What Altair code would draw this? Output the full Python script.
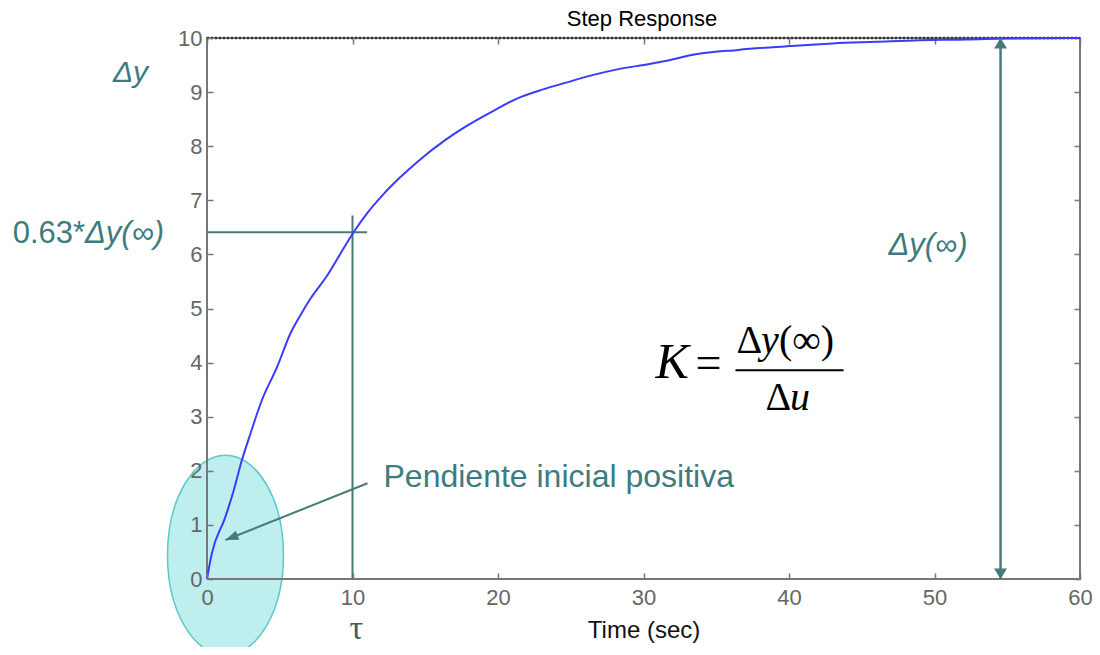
import math
import altair as alt
import pandas as pd

# ---- data ----
time_s = [0, 0.32, 1.24, 1.84, 2.38, 2.99, 3.75, 4.82, 5.7, 6.43, 7.08, 8.26, 9.14, 10.05,
          11.0, 12.15, 13.26, 14.45, 16.46, 17.88, 19.66, 21.3, 23.1, 24.75, 26.3, 28.2,
          30.4, 31.6, 33.6, 36.5, 40.0, 43.0, 46.0, 49.0, 52.2, 55.0, 60.0]
response = [0, 0.46, 1.13, 1.64, 2.18, 2.69, 3.29, 3.92, 4.52, 4.88, 5.17, 5.61, 6.0, 6.4,
            6.76, 7.12, 7.42, 7.71, 8.13, 8.38, 8.65, 8.88, 9.05, 9.18, 9.3, 9.42,
            9.52, 9.58, 9.70, 9.78, 9.85, 9.9, 9.93, 9.96, 9.97, 9.99, 10.0]

x_ticks = [0, 10, 20, 30, 40, 50, 60]
y_ticks = [0, 1, 2, 3, 4, 5, 6, 7, 8, 9, 10]

final_value = 10.0
tau = 10.0
y_63 = 6.41
tau_mark_top = 6.72
y63_line_end = 11.0
gain_arrow_t = 54.54

# annotation anchors (data units)
ellipse_center = (1.27, 0.44)
slope_arrow_start = (11.03, 1.77)
slope_arrow_tip = (1.27, 0.72)
frac_bar = (36.32, 43.75, 3.86)

# ---- layout / style ----
W, H = 873, 541
XD, YD = [0, 60], [0, 10]
TEAL_LINE = "#477b79"
TEAL_TEXT = "#3c7c7e"
GRAY = "#777777"
SANS = "Liberation Sans"
SERIF = "Liberation Serif"


def xs(field, axis=None):
    return alt.X(f"{field}:Q", scale=alt.Scale(domain=XD, nice=False, zero=False), axis=axis)


def ys(field, axis=None):
    return alt.Y(f"{field}:Q", scale=alt.Scale(domain=YD, nice=False, zero=False), axis=axis)


def one(**kw):
    return pd.DataFrame({k: [v] for k, v in kw.items()})


bottom_axis = alt.Axis(values=x_ticks, orient="bottom", domain=False, grid=False,
                       tickSize=6, offset=-6, tickColor=GRAY, tickWidth=1.5,
                       labelFont=SANS, labelFontSize=22, labelColor="#666666",
                       labelPadding=8, labelFlush=False, labelOverlap=False,
                       title="Time (sec)", titleFont=SANS, titleFontSize=24,
                       titleFontWeight="normal", titleColor="#111111", titlePadding=10,
                       zindex=2)
left_axis = alt.Axis(values=y_ticks, orient="left", domain=False, grid=False,
                     tickSize=6, offset=-6, tickColor=GRAY, tickWidth=1.5,
                     labelFont=SANS, labelFontSize=22, labelColor="#666666",
                     labelPadding=5, labelOverlap=False, title=None, zindex=2)
top_axis = alt.Axis(values=x_ticks, orient="top", domain=False, grid=False, labels=False,
                    tickSize=6, offset=-6, tickColor=GRAY, tickWidth=1.5, title=None)
right_axis = alt.Axis(values=y_ticks, orient="right", domain=False, grid=False, labels=False,
                      tickSize=6, offset=-6, tickColor=GRAY, tickWidth=1.5, title=None)

# ellipse highlighting the initial slope
ellipse_path = ("M -0.58,0 C -0.58,-0.5523 -0.3203,-1 0,-1 C 0.3203,-1 0.58,-0.5523 0.58,0 "
                "C 0.58,0.5523 0.3203,1 0,1 C -0.3203,1 -0.58,0.5523 -0.58,0 Z")
ellipse = alt.Chart(one(t=ellipse_center[0], y=ellipse_center[1])).mark_point(
    shape=ellipse_path, size=40000, filled=True, fill="#bfeeee", stroke="#5ccaca",
    strokeWidth=1.5, opacity=1).encode(x=xs("t"), y=ys("y"))

# box edges redrawn above the ellipse
frame_left = alt.Chart(one(t=XD[0], y=YD[0], y2=YD[1])).mark_rule(
    color=GRAY, strokeWidth=2).encode(x=xs("t"), y=ys("y"), y2="y2:Q")
frame_bottom = alt.Chart(one(t=XD[0], t2=XD[1], y=YD[0])).mark_rule(
    color=GRAY, strokeWidth=2).encode(x=xs("t"), x2="t2:Q", y=ys("y"))

# steady-state dotted line (carries the mirrored top/right axes)
steady = alt.Chart(pd.DataFrame({"t": XD, "y": [final_value, final_value]})).mark_line(
    color="#333333", strokeDash=[2, 2], strokeWidth=2.5).encode(
    x=xs("t", top_axis), y=ys("y", right_axis))

curve = alt.Chart(pd.DataFrame({"t": time_s, "y": response})).mark_line(
    color="#3b3bff", strokeWidth=2, interpolate="monotone").encode(
    x=xs("t", bottom_axis), y=ys("y", left_axis))

tau_v = alt.Chart(one(t=tau, y=0.0, y2=tau_mark_top)).mark_rule(
    color=TEAL_LINE, strokeWidth=2).encode(x=xs("t"), y=ys("y"), y2="y2:Q")
tau_h = alt.Chart(one(t=0.0, t2=y63_line_end, y=y_63)).mark_rule(
    color=TEAL_LINE, strokeWidth=2).encode(x=xs("t"), x2="t2:Q", y=ys("y"))

gain_line = alt.Chart(one(t=gain_arrow_t, y=0.0, y2=final_value)).mark_rule(
    color=TEAL_LINE, strokeWidth=2.5).encode(x=xs("t"), y=ys("y"), y2="y2:Q")

head_wide = "M 0,0 L 1,1.6 L -1,1.6 Z"
head_narrow = "M 0,0 L 0.6,1.6 L -0.6,1.6 Z"

gain_head_up = alt.Chart(one(t=gain_arrow_t, y=final_value)).mark_point(
    shape=head_wide, size=169, filled=True, color=TEAL_LINE, opacity=1, angle=0).encode(
    x=xs("t"), y=ys("y"))
gain_head_down = alt.Chart(one(t=gain_arrow_t, y=0.0)).mark_point(
    shape=head_wide, size=169, filled=True, color=TEAL_LINE, opacity=1, angle=180).encode(
    x=xs("t"), y=ys("y"))

slope_line = alt.Chart(one(t=slope_arrow_start[0], y=slope_arrow_start[1],
                           t2=slope_arrow_tip[0], y2=slope_arrow_tip[1])).mark_rule(
    color=TEAL_LINE, strokeWidth=2).encode(x=xs("t"), x2="t2:Q", y=ys("y"), y2="y2:Q")
dx = (slope_arrow_tip[0] - slope_arrow_start[0]) * W / (XD[1] - XD[0])
dy = -(slope_arrow_tip[1] - slope_arrow_start[1]) * H / (YD[1] - YD[0])
slope_angle = math.degrees(math.atan2(dx, -dy)) % 360
slope_head = alt.Chart(one(t=slope_arrow_tip[0], y=slope_arrow_tip[1])).mark_point(
    shape=head_narrow, size=264, filled=True, color=TEAL_LINE, opacity=1,
    angle=slope_angle).encode(x=xs("t"), y=ys("y"))

frac = alt.Chart(one(t=frac_bar[0], t2=frac_bar[1], y=frac_bar[2])).mark_rule(
    color="black", strokeWidth=2).encode(x=xs("t"), x2="t2:Q", y=ys("y"))


def label(txt, t, y, size, color, font=SANS, style="normal", align="center"):
    return alt.Chart(one(t=t, y=y, s=txt)).mark_text(
        font=font, fontSize=size, fontStyle=style, color=color, align=align,
        baseline="alphabetic").encode(x=xs("t"), y=ys("y"), text="s:N")


texts = [
    label("Step Response", 29.9, 10.23, 22, "black"),
    label("Δy", -5.26, 9.18, 30, TEAL_TEXT, style="italic"),
    label("0.63*", -8.38, 6.205, 31, TEAL_TEXT, align="right"),
    label("Δy(∞)", -8.38, 6.205, 31, TEAL_TEXT, style="italic", align="left"),
    label("Δy(∞)", 49.55, 5.98, 31, TEAL_TEXT, style="italic"),
    label("Pendiente inicial positiva", 12.13, 1.70, 32, TEAL_TEXT, align="left"),
    label("τ", 10.27, -1.10, 34, "#3a6262", font=SERIF),
    label("K", 30.82, 3.71, 50, "black", font=SERIF, style="italic", align="left"),
    label("=", 33.57, 3.71, 46, "black", font=SERIF, align="left"),
    label("Δ", 36.39, 4.17, 40, "black", font=SERIF, align="left"),
    label("y", 38.08, 4.17, 40, "black", font=SERIF, style="italic", align="left"),
    label("(∞)", 39.31, 4.17, 40, "black", font=SERIF, align="left"),
    label("Δ", 38.38, 3.12, 40, "black", font=SERIF, align="left"),
    label("u", 40.07, 3.12, 40, "black", font=SERIF, style="italic", align="left"),
]

chart = alt.layer(
    ellipse, frame_left, frame_bottom, steady, tau_v, tau_h, curve, gain_line,
    gain_head_up, gain_head_down, slope_line, slope_head, frac, *texts
).resolve_axis(x="independent", y="independent").properties(
    width=W, height=H,
    autosize=alt.AutoSizeParams(type="none"),
    padding={"left": 199, "top": 30, "right": 12, "bottom": 68},
).configure_view(stroke=GRAY, strokeWidth=2)

chart.save("out.html", embed_options={"renderer": "svg", "actions": False})
